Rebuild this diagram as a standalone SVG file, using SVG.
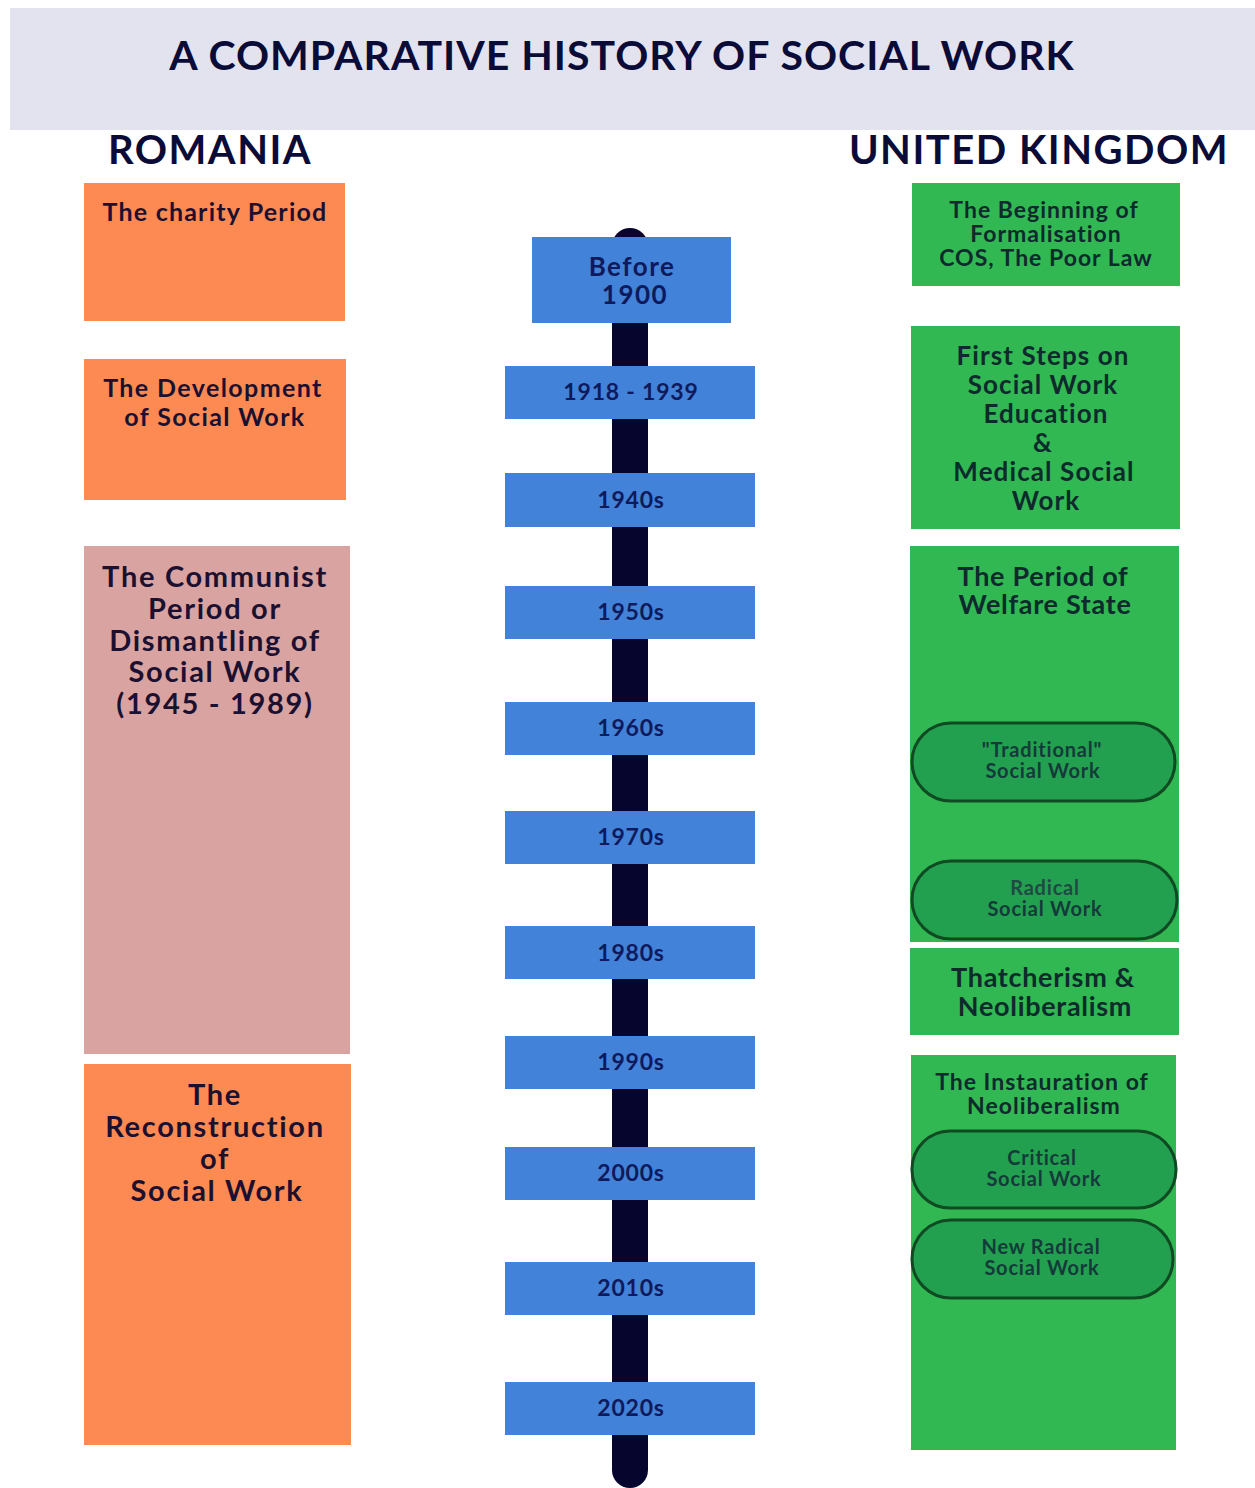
<svg xmlns="http://www.w3.org/2000/svg" width="1255" height="1488" viewBox="0 0 1255 1488">
<style>
text{font-family:Lato,"Liberation Sans",sans-serif;font-weight:bold;text-anchor:middle}
.title{font-size:41px;letter-spacing:1px;fill:#0b0b38}
.hdr{font-size:40px;letter-spacing:1.5px;fill:#0b0b38}
.org{fill:#fd8a52}
.pnk{fill:#d9a3a2}
.grn{fill:#31b853}
.blu{fill:#4382d9}
.lt{fill:#1c1030}
.rt{fill:#0e2a2c}
.s1{font-size:25px;letter-spacing:1.2px}
.s2{font-size:25px;letter-spacing:1.4px}
.s3{font-size:29px;letter-spacing:1.7px}
.r1{font-size:23px;letter-spacing:1px}
.r2{font-size:26px;letter-spacing:1.1px}
.r3{font-size:27px;letter-spacing:0.7px}
.yt{font-size:23px;letter-spacing:0.8px;fill:#0f1a5c}
.yb{font-size:26px;letter-spacing:1.5px;fill:#0f1a5c}
.pill{fill:#23a04f;stroke:#0f4a22;stroke-width:3}
.pill2{fill:none;stroke:#23a04f;stroke-width:1}
.pt{font-size:20px;letter-spacing:0.8px;fill:#143a3a}
</style>
<rect width="1255" height="1488" fill="#ffffff"/>
<rect x="10" y="8" width="1245" height="122" fill="#e3e3f0"/>
<text class="title" x="622" y="70">A COMPARATIVE HISTORY OF SOCIAL WORK</text>
<text class="hdr" x="210" y="164">ROMANIA</text>
<text class="hdr" x="1039" y="164">UNITED KINGDOM</text>

<g id="timeline-line">
<rect x="612" y="228" width="36" height="1260" rx="18" fill="#05052e"/>
</g>

<g id="ro-charity">
<rect class="org" x="84" y="183" width="261" height="138"/>
<text class="lt s1" x="215" y="221">The charity Period</text>
</g>
<g id="ro-development">
<rect class="org" x="84" y="359" width="262" height="141"/>
<text class="lt s2" x="213" y="397">The Development</text>
<text class="lt s2" x="215" y="426">of Social Work</text>
</g>
<g id="ro-communist">
<rect class="pnk" x="84" y="546" width="266" height="508"/>
<text class="lt s3" x="215" y="587">The Communist</text>
<text class="lt s3" x="215" y="619">Period or</text>
<text class="lt s3" x="215" y="651">Dismantling of</text>
<text class="lt s3" x="215" y="682">Social Work</text>
<text class="lt s3" x="215" y="714">(1945 - 1989)</text>
</g>
<g id="ro-reconstruction">
<rect class="org" x="84" y="1064" width="267" height="381"/>
<text class="lt s3" x="215" y="1105">The</text>
<text class="lt s3" x="215" y="1137">Reconstruction</text>
<text class="lt s3" x="215" y="1169">of</text>
<text class="lt s3" x="217" y="1201">Social Work</text>
</g>

<g id="y-before1900"><rect class="blu" x="532" y="237" width="199" height="86"/><text class="yb" x="632" y="276">Before</text><text class="yb" x="635" y="304">1900</text></g>
<g id="y-1918"><rect class="blu" x="505" y="366" width="250" height="53"/><text class="yt" x="631" y="400">1918 - 1939</text></g>
<g id="y-1940"><rect class="blu" x="505" y="473" width="250" height="54"/><text class="yt" x="631" y="508">1940s</text></g>
<g id="y-1950"><rect class="blu" x="505" y="586" width="250" height="53"/><text class="yt" x="631" y="620">1950s</text></g>
<g id="y-1960"><rect class="blu" x="505" y="702" width="250" height="53"/><text class="yt" x="631" y="736">1960s</text></g>
<g id="y-1970"><rect class="blu" x="505" y="811" width="250" height="53"/><text class="yt" x="631" y="845">1970s</text></g>
<g id="y-1980"><rect class="blu" x="505" y="926" width="250" height="53"/><text class="yt" x="631" y="961">1980s</text></g>
<g id="y-1990"><rect class="blu" x="505" y="1036" width="250" height="53"/><text class="yt" x="631" y="1070">1990s</text></g>
<g id="y-2000"><rect class="blu" x="505" y="1147" width="250" height="53"/><text class="yt" x="631" y="1181">2000s</text></g>
<g id="y-2010"><rect class="blu" x="505" y="1262" width="250" height="53"/><text class="yt" x="631" y="1296">2010s</text></g>
<g id="y-2020"><rect class="blu" x="505" y="1382" width="250" height="53"/><text class="yt" x="631" y="1416">2020s</text></g>

<g id="uk-beginning">
<rect class="grn" x="912" y="183" width="268" height="103"/>
<text class="rt r1" x="1044" y="218">The Beginning of</text>
<text class="rt r1" x="1046" y="242">Formalisation</text>
<text class="rt r1" x="1046" y="266">COS, The Poor Law</text>
</g>
<g id="uk-firststeps">
<rect class="grn" x="911" y="326" width="269" height="203"/>
<text class="rt r2" x="1043" y="365">First Steps on</text>
<text class="rt r2" x="1043" y="394">Social Work</text>
<text class="rt r2" x="1046" y="423">Education</text>
<text class="rt r2" x="1043" y="452">&amp;</text>
<text class="rt r2" x="1044" y="481">Medical Social</text>
<text class="rt r2" x="1046" y="510">Work</text>
</g>
<g id="uk-welfare">
<rect class="grn" x="910" y="546" width="269" height="396"/>
<text class="rt r3" x="1043" y="586">The Period of</text>
<text class="rt r3" x="1045" y="614">Welfare State</text>
</g>
<g id="uk-traditional">
<rect class="pill" x="912" y="723" width="263" height="78" rx="39"/>
<rect class="pill2" x="915" y="726" width="257" height="72" rx="36"/>
<text class="pt" x="1042" y="757">"Traditional"</text>
<text class="pt" x="1043" y="778">Social Work</text>
</g>
<g id="uk-radical">
<rect class="pill" x="912" y="861" width="265" height="78" rx="39"/>
<rect class="pill2" x="915" y="864" width="259" height="72" rx="36"/>
<text class="pt" x="1045" y="895" style="fill:#1f4a44">Radical</text>
<text class="pt" x="1045" y="916">Social Work</text>
</g>
<g id="uk-thatcherism">
<rect class="grn" x="910" y="948" width="269" height="87"/>
<text class="rt r3" x="1043" y="987">Thatcherism &amp;</text>
<text class="rt r3" x="1045" y="1016">Neoliberalism</text>
</g>
<g id="uk-instauration">
<rect class="grn" x="911" y="1055" width="265" height="395"/>
<text class="rt r1" x="1042" y="1090">The Instauration of</text>
<text class="rt r1" x="1044" y="1114">Neoliberalism</text>
</g>
<g id="uk-critical">
<rect class="pill" x="912" y="1131" width="264" height="77" rx="38"/>
<rect class="pill2" x="915" y="1134" width="258" height="71" rx="35"/>
<text class="pt" x="1042" y="1165">Critical</text>
<text class="pt" x="1044" y="1186">Social Work</text>
</g>
<g id="uk-newradical">
<rect class="pill" x="912" y="1220" width="261" height="78" rx="39"/>
<rect class="pill2" x="915" y="1223" width="255" height="72" rx="36"/>
<text class="pt" x="1041" y="1254">New Radical</text>
<text class="pt" x="1042" y="1275">Social Work</text>
</g>
<g id="connectors"></g>
</svg>
